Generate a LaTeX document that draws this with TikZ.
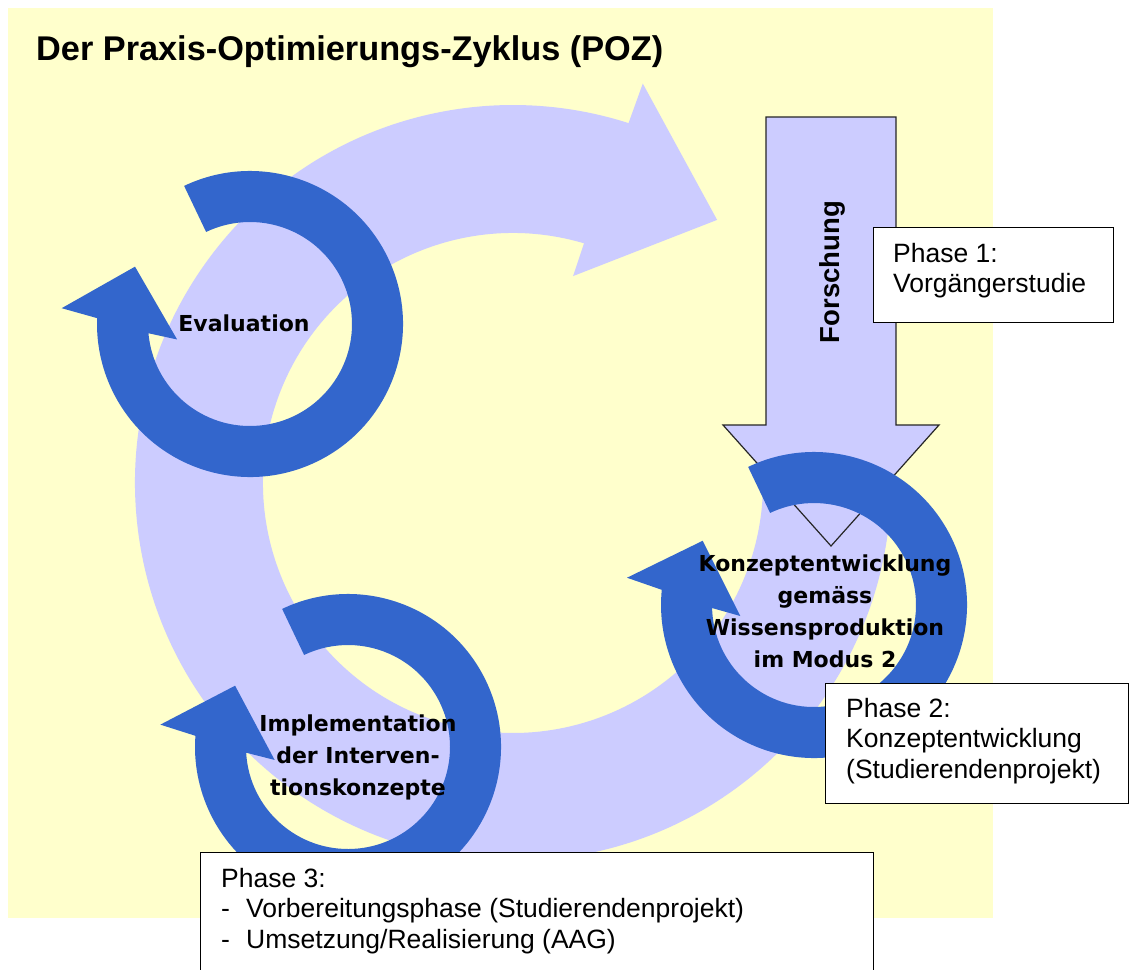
\documentclass[tikz,border=0pt]{standalone}
\usepackage{fontspec}
\setmainfont{Liberation Sans}
\newfontfamily\ringfont{DejaVu Sans}
\usetikzlibrary{positioning}
\definecolor{paper}{RGB}{255,255,204}
\definecolor{lilac}{RGB}{204,204,255}
\definecolor{royal}{RGB}{51,102,204}
\tikzset{
  ring text/.style={font=\ringfont\bfseries\fontsize{22}{32}\selectfont,align=center,inner sep=0pt},
  phase box/.style={draw=black,line width=1.3pt,fill=white,anchor=north west,inner sep=0pt},
  phase text/.style={font=\fontsize{26.5}{30.5}\selectfont,align=left,anchor=north west,inner sep=0pt},
  % blue cycle arrow, #1 turns the head a little
  pics/cycle ring/.style={code={
    \fill[royal] (115.5:153) arc[start angle=115.5,end angle={-182.2+#1},radius=153]
      -- ({175.2+#1}:189) -- ({153.5+#1}:128.5) -- ({192+#1}:74.5)
      -- ({185.2+#1}:102) arc[start angle={-174.8+#1},end angle=115.5,radius=102] -- cycle;
  }},
  pics/cycle ring/.default=0,
}

\begin{document}
\begin{tikzpicture}[x=1pt,y=1pt]
  \useasboundingbox (0,0) rectangle (1131,-969);
  \fill[paper] (8,-8) rectangle (993,-918);
  % big cycle
  \begin{scope}[shift={(513,-483)}]
    \fill[lilac] (8:378) arc[start angle=8,end angle=-287.8,radius=378]
      -- (72:420) -- (52.2:333) -- (73.8:215.5)
      -- (-286.5:250) arc[start angle=-286.5,end angle=8,radius=250] -- cycle;
  \end{scope}
  % research arrow
  \draw[line width=1.2pt,draw=black!85,fill=lilac] (766,-117) -- (896,-117) -- (896,-425)
    -- (939,-425) -- (831,-546) -- (723,-425) -- (766,-425) -- cycle;
  \node[font=\bfseries\fontsize{27.5}{30}\selectfont,rotate=90] (forschung) at (832,-272) {Forschung};
  % the three phases
  \pic at (250,-324) {cycle ring=0};
  \pic at (348,-747) {cycle ring=-2};
  \pic at (814,-605) {cycle ring=-3.5};
  \node[ring text,anchor=base] (eval) at (244,-331) {Evaluation};
  \node[ring text,anchor=north] (konzept) at (825,-555) {Konzeptentwicklung\\gemäss\\Wissensproduktion\\im Modus 2};
  \node[ring text,anchor=north] (impl) at (358,-715) {Implementation\\der Interven-\\tionskonzepte};
  % boxes
  \node[phase box,minimum width=240,minimum height=95] (phase1) at (873,-227) {};
  \node[phase text] (phase1 text) at ([shift={(20,-16)}]phase1.north west) {Phase 1:\\Vorgängerstudie};
  \node[phase box,minimum width=303,minimum height=120] (phase2) at (825,-683) {};
  \node[phase text] (phase2 text) at ([shift={(21,-15)}]phase2.north west) {Phase 2:\\Konzeptentwicklung\\(Studierendenprojekt)};
  \node[phase box,minimum width=673,minimum height=140] (phase3) at (200,-852) {};
  \node[phase text] (phase3 text) at ([shift={(21,-16)}]phase3.north west) {Phase 3:\\\makebox[25pt][l]{-}Vorbereitungsphase (Studierendenprojekt)\\\makebox[25pt][l]{-}Umsetzung/Realisierung (AAG)};
  \node[font=\bfseries\fontsize{34.3}{38}\selectfont,anchor=base west,inner sep=0pt] (title) at (36,-60) {Der Praxis-Optimierungs-Zyklus (POZ)};
\end{tikzpicture}
\end{document}
